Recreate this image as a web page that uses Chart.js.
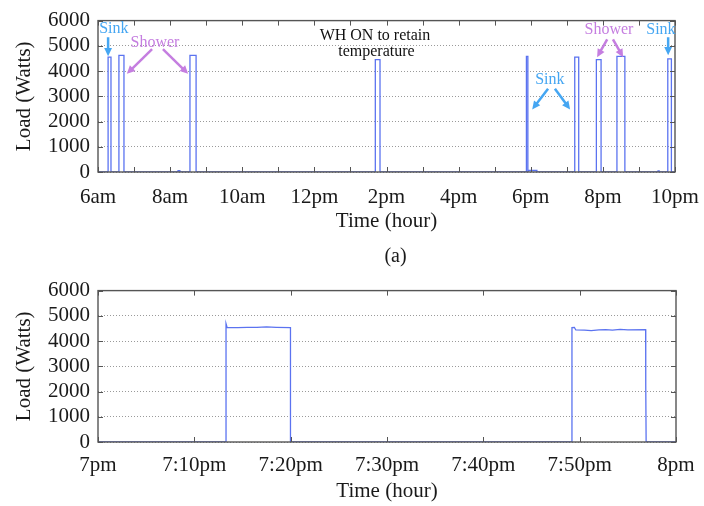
<!DOCTYPE html>
<html>
<head>
<meta charset="utf-8">
<title>Water heater load</title>
<script src="https://cdn.jsdelivr.net/npm/chart.js@4.4.1/dist/chart.umd.min.js"></script>
<style>
  body { margin: 0; background: #fff; }
  #day-box { position: absolute; left: 0; top: 0; width: 704px; height: 270px; }
  #evening-box { position: absolute; left: 0; top: 270px; width: 704px; height: 236px; }
</style>
</head>
<body>
<div id="day-box"><canvas id="day-chart"></canvas></div>
<div id="evening-box"><canvas id="evening-chart"></canvas></div>
<script>
// (a) whole day: heater on/off events, hours since midnight and watts
const dayOn   = [6.28, 6.58, 8.22, 8.55, 13.69, 17.88, 17.93, 19.22, 19.82, 20.39, 21.53, 21.80];
const dayOff  = [6.36, 6.72, 8.27, 8.72, 13.82, 17.92, 18.17, 19.33, 19.95, 20.61, 21.56, 21.90];
const dayLoad = [4550, 4620, 50, 4620, 4450, 4580, 60, 4550, 4450, 4580, 40, 4480];
const dayTickLabels = ['6am', '8am', '10am', '12pm', '2pm', '4pm', '6pm', '8pm', '10pm'];

// (b) 7pm - 8pm close-up: minutes after 7pm and watts
const eveningMinutes = [0, 13.29, 13.29, 13.4, 14.5, 15.5, 16.5, 17.5, 18.5, 19.98, 19.98,
                        49.2, 49.2, 49.45, 49.6, 50.5, 51.2, 52.0, 52.7, 53.4, 54.2, 55.0, 56.85, 56.86, 56.9, 60];
const eveningWatts   = [0, 0, 4690, 4540, 4535, 4545, 4540, 4560, 4545, 4535, 0,
                        0, 4535, 4540, 4440, 4430, 4410, 4440, 4450, 4430, 4460, 4440, 4450, 2260, 0, 0];
const eveningTickLabels = ['7pm', '7:10pm', '7:20pm', '7:30pm', '7:40pm', '7:50pm', '8pm'];

// shared load axis
const loadTickLabels = ['0', '1000', '2000', '3000', '4000', '5000', '6000'];

// annotations on (a), placed in data units (hour, watts)
const SINK = '#45a6f2';
const SHOWER = '#c57ee0';
const dayNotes = [
    { text: 'Sink', color: SINK, x: 6.44, y: 5690 },
    { text: 'Shower', color: SHOWER, x: 7.58, y: 5140 },
    { text: 'WH ON to retain', color: '#111', x: 13.68, y: 5410 },
    { text: 'temperature', color: '#111', x: 13.72, y: 4750 },
    { text: 'Sink', color: SINK, x: 18.53, y: 3650 },
    { text: 'Shower', color: SHOWER, x: 20.17, y: 5650 },
    { text: 'Sink', color: SINK, x: 21.61, y: 5650 }
];
const dayArrows = [
    { color: SINK, from: [6.28, 5340], to: [6.28, 4590] },
    { color: SHOWER, from: [7.50, 4870], to: [6.80, 3890] },
    { color: SHOWER, from: [7.80, 4870], to: [8.50, 3890] },
    { color: SINK, from: [18.48, 3300], to: [18.04, 2480] },
    { color: SINK, from: [18.67, 3300], to: [19.09, 2480] },
    { color: SHOWER, from: [20.12, 5260], to: [19.84, 4550] },
    { color: SHOWER, from: [20.28, 5260], to: [20.56, 4550] },
    { color: SINK, from: [21.81, 5340], to: [21.81, 4630] }
];

Chart.defaults.font.family = '"Liberation Serif", "Times New Roman", serif';
Chart.defaults.font.size = 21;
Chart.defaults.color = '#1a1a1a';

// turn on/off events into a square wave
function stepPoints(on, off, load, start, end) {
    const pts = [{ x: start, y: 0 }];
    on.forEach(function(t, i) {
        pts.push({ x: t, y: 0 }, { x: t, y: load[i] }, { x: off[i], y: load[i] }, { x: off[i], y: 0 });
    });
    pts.push({ x: end, y: 0 });
    return pts;
}

// gnuplot style box with inward ticks
const framePlugin = {
    id: 'frame',
    afterDraw(chart, args, opts) {
        const ctx = chart.ctx;
        const a = chart.chartArea;
        const x = chart.scales.x, y = chart.scales.y;
        ctx.save();
        ctx.strokeStyle = '#555';
        ctx.lineWidth = 1;
        ctx.beginPath();
        for (let v = x.min; v <= x.max + 1e-9; v += opts.xMinor) {
            const px = Math.round(x.getPixelForValue(v)) + 0.5;
            ctx.moveTo(px, a.bottom); ctx.lineTo(px, a.bottom - 5);
            ctx.moveTo(px, a.top); ctx.lineTo(px, a.top + 5);
        }
        y.ticks.forEach(function(t) {
            const py = Math.round(y.getPixelForValue(t.value)) + 0.5;
            ctx.moveTo(a.left, py); ctx.lineTo(a.left + 5, py);
            ctx.moveTo(a.right, py); ctx.lineTo(a.right - 5, py);
        });
        ctx.stroke();
        ctx.lineWidth = 1.4;
        ctx.strokeRect(a.left, a.top, a.width, a.height);
        ctx.restore();
    }
};

// text labels and arrows
const notesPlugin = {
    id: 'notes',
    afterDraw(chart, args, opts) {
        const ctx = chart.ctx;
        const x = chart.scales.x, y = chart.scales.y;
        ctx.save();
        (opts.arrows || []).forEach(function(ar) {
            const x1 = x.getPixelForValue(ar.from[0]), y1 = y.getPixelForValue(ar.from[1]);
            const x2 = x.getPixelForValue(ar.to[0]), y2 = y.getPixelForValue(ar.to[1]);
            const ang = Math.atan2(y2 - y1, x2 - x1);
            const head = 9;
            ctx.strokeStyle = ar.color;
            ctx.fillStyle = ar.color;
            ctx.lineWidth = 2.5;
            ctx.beginPath();
            ctx.moveTo(x1, y1);
            ctx.lineTo(x2 - Math.cos(ang) * head * 0.8, y2 - Math.sin(ang) * head * 0.8);
            ctx.stroke();
            ctx.beginPath();
            ctx.moveTo(x2, y2);
            ctx.lineTo(x2 - head * Math.cos(ang - 0.45), y2 - head * Math.sin(ang - 0.45));
            ctx.lineTo(x2 - head * Math.cos(ang + 0.45), y2 - head * Math.sin(ang + 0.45));
            ctx.closePath();
            ctx.fill();
        });
        ctx.font = '16px "Liberation Serif", serif';
        ctx.textAlign = 'center';
        ctx.textBaseline = 'middle';
        (opts.notes || []).forEach(function(n) {
            ctx.fillStyle = n.color;
            ctx.fillText(n.text, x.getPixelForValue(n.x), y.getPixelForValue(n.y));
        });
        if (opts.caption) {
            ctx.font = '20px "Liberation Serif", serif';
            ctx.fillStyle = '#1a1a1a';
            const a = chart.chartArea;
            ctx.fillText(opts.caption, (a.left + a.right) / 2 + 9, opts.captionY);
        }
        ctx.restore();
    }
};

function loadChart(canvasId, cfg) {
    return new Chart(document.getElementById(canvasId), {
        type: 'line',
        data: {
            datasets: [{
                data: cfg.points,
                borderColor: '#5b73f0',
                borderWidth: 1.3,
                pointRadius: 0,
                tension: 0,
                fill: false
            }]
        },
        options: {
            animation: false,
            responsive: true,
            maintainAspectRatio: false,
            layout: { padding: cfg.padding },
            plugins: {
                legend: { display: false },
                tooltip: { enabled: false },
                frame: { xMinor: cfg.xMinor },
                notes: { notes: cfg.notes, arrows: cfg.arrows, caption: cfg.caption, captionY: cfg.captionY }
            },
            scales: {
                x: {
                    type: 'linear',
                    min: cfg.xMin,
                    max: cfg.xMax,
                    grid: { display: false },
                    border: { display: false },
                    ticks: {
                        stepSize: cfg.xStep,
                        padding: cfg.tickPad,
                        autoSkip: false,
                        maxRotation: 0,
                        callback: function(value, index) { return cfg.tickLabels[index]; }
                    },
                    title: { display: true, text: 'Time (hour)', padding: { top: 0, bottom: cfg.titlePad } },
                    afterFit: function(scale) { scale.height = cfg.xHeight; }
                },
                y: {
                    min: 0,
                    max: 6000,
                    ticks: {
                        stepSize: 1000,
                        padding: 8,
                        autoSkip: false,
                        callback: function(value, index) { return loadTickLabels[index]; }
                    },
                    grid: { color: '#9a9a9a', drawTicks: false },
                    border: { display: false, dash: [1, 2] },
                    title: { display: true, text: 'Load (Watts)', padding: { top: 12, bottom: 0 } },
                    afterFit: function(scale) { scale.width = 98; }
                }
            }
        },
        plugins: [framePlugin, notesPlugin]
    });
}

document.addEventListener('DOMContentLoaded', function() {
    loadChart('day-chart', {
        points: stepPoints(dayOn, dayOff, dayLoad, 6, 22),
        xMin: 6, xMax: 22, xStep: 2, xMinor: 1,
        tickLabels: dayTickLabels,
        padding: { top: 18, right: 29, left: 0, bottom: 0 },
        xHeight: 98, tickPad: 5, titlePad: 36,
        notes: dayNotes, arrows: dayArrows,
        caption: '(a)', captionY: 257
    });

    loadChart('evening-chart', {
        points: eveningMinutes.map(function(m, i) { return { x: m, y: eveningWatts[i] }; }),
        xMin: 0, xMax: 60, xStep: 10, xMinor: 10,
        tickLabels: eveningTickLabels,
        padding: { top: 15, right: 28, left: 0, bottom: 0 },
        xHeight: 64, tickPad: 3, titlePad: 2
    });
});
</script>
</body>
</html>
